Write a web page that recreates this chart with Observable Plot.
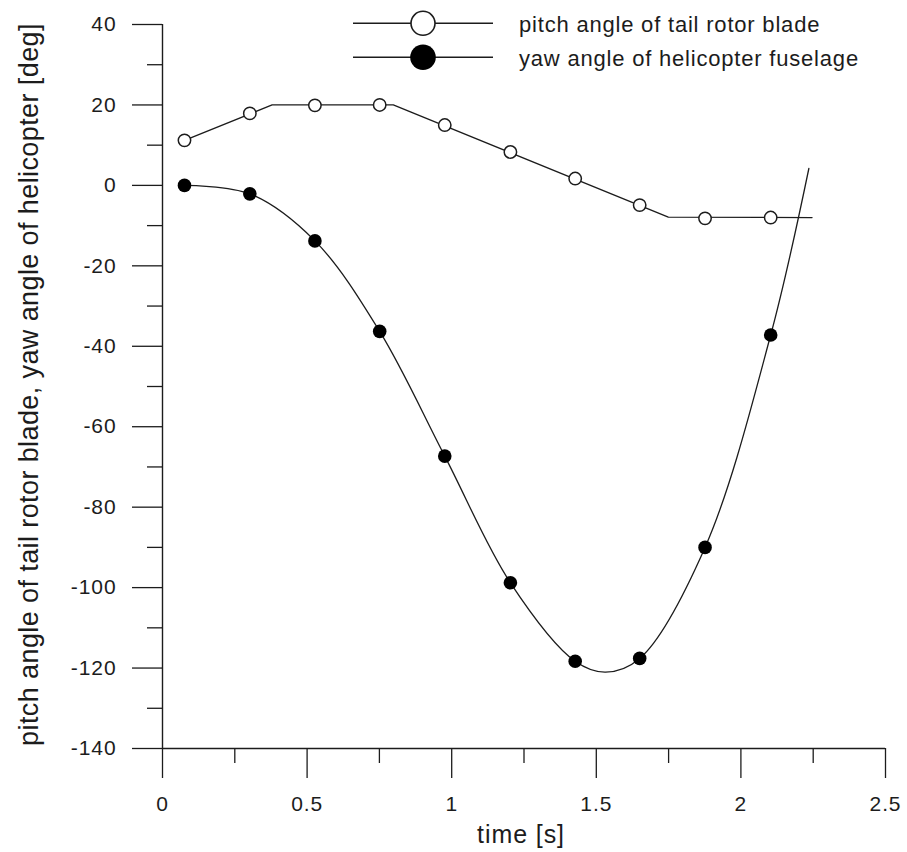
<!DOCTYPE html>
<html>
<head>
<meta charset="utf-8">
<script src="https://cdn.jsdelivr.net/npm/d3@7"></script>
<script src="https://cdn.jsdelivr.net/npm/@observablehq/plot@0.6"></script>
<style>
  html, body { margin: 0; padding: 0; background: #ffffff; }
  #chart { width: 907px; height: 852px; }
  #chart svg text { letter-spacing: 0.9px; }
</style>
</head>
<body>
<div id="chart"></div>
<script>
// ---- data ----
const markerTimes    = [0.076, 0.302, 0.527, 0.751, 0.976, 1.203, 1.427, 1.650, 1.876, 2.103];
const pitchAtMarkers = [11.2, 17.9, 19.9, 20.0, 15.0, 8.3, 1.7, -4.9, -8.2, -8.0];
const yawAtMarkers   = [0.0, -2.1, -13.8, -36.3, -67.3, -98.8, -118.3, -117.6, -90.0, -37.2];

// pitch angle: piecewise-linear trace (break points)
const pitchLineTimes  = [0.076, 0.379, 0.798, 1.749, 2.246];
const pitchLineValues = [11.2, 20.0, 20.0, -7.9, -8.0];

// yaw angle: smooth trace through these points
const yawCurveTimes  = [0.076, 0.302, 0.527, 0.751, 0.976, 1.203, 1.427, 1.532, 1.650, 1.876, 2.103, 2.235];
const yawCurveValues = [0.0, -2.1, -13.8, -36.3, -67.3, -98.8, -118.3, -121.0, -117.6, -90.0, -37.2, 4.2];

const yTicksMajor = [-140, -120, -100, -80, -60, -40, -20, 0, 20, 40];
const yTicksMinor = [-130, -110, -90, -70, -50, -30, -10, 10, 30];
const xTicksMajor = [0, 0.5, 1, 1.5, 2, 2.5];
const xTicksMinor = [0.25, 0.75, 1.25, 1.75, 2.25];

const seriesNames = ["pitch angle of tail rotor blade", "yaw angle of helicopter fuselage"];
const xLabel = "time [s]";
const yLabel = "pitch angle of tail rotor blade, yaw angle of helicopter [deg]";

// ---- build tables ----
const pitchLine = pitchLineTimes.map((t, i) => ({t, v: pitchLineValues[i]}));
const yawCurve = yawCurveTimes.map((t, i) => ({t, v: yawCurveValues[i]}));
const pitchMarks = markerTimes.map((t, i) => ({t, v: pitchAtMarkers[i]}));
const yawMarks = markerTimes.map((t, i) => ({t, v: yawAtMarkers[i]}));

const ink = "#1c1c1c";
const font = "'Liberation Sans', Arial, Helvetica, sans-serif";

const plot = Plot.plot({
  width: 907,
  height: 852,
  marginLeft: 162,
  marginRight: 22,
  marginTop: 24,
  marginBottom: 104,
  x: {domain: [0, 2.5]},
  y: {domain: [-140, 40]},
  style: {fontFamily: font, background: "#ffffff", color: ink, overflow: "visible"},
  marks: [
    Plot.axisY(yTicksMajor, {tickSize: 30, tickPadding: 16, tickFormat: d => String(d), fontSize: 21, stroke: ink, strokeWidth: 1.3, fill: ink, label: null}),
    Plot.axisY(yTicksMinor, {tickSize: 15, text: null, stroke: ink, strokeWidth: 1.3, label: null}),
    Plot.axisX(xTicksMajor, {tickSize: 30, tickPadding: 18, tickFormat: d => String(d), fontSize: 21, stroke: ink, strokeWidth: 1.3, fill: ink, label: null}),
    Plot.axisX(xTicksMinor, {tickSize: 15, text: null, stroke: ink, strokeWidth: 1.3, label: null}),
    Plot.ruleX([0], {stroke: ink, strokeWidth: 1.4}),
    Plot.ruleY([-140], {stroke: ink, strokeWidth: 1.4}),
    Plot.line(pitchLine, {x: "t", y: "v", stroke: ink, strokeWidth: 1.3}),
    Plot.line(yawCurve, {x: "t", y: "v", curve: "catmull-rom", stroke: ink, strokeWidth: 1.3}),
    Plot.dot(pitchMarks, {x: "t", y: "v", r: 6.2, stroke: ink, strokeWidth: 1.5, fill: "#ffffff"}),
    Plot.dot(yawMarks, {x: "t", y: "v", r: 6.8, fill: "#000000", stroke: "none"}),
    Plot.text([yLabel], {text: d => d, frameAnchor: "left", rotate: -90, dx: -125, dy: -2, fontSize: 27, textAnchor: "middle", lineAnchor: "bottom", fill: ink}),
    Plot.text([xLabel], {text: d => d, frameAnchor: "bottom", dx: -3, dy: 94, fontSize: 25, textAnchor: "middle", lineAnchor: "bottom", fill: ink})
  ]
});

// legend (drawn on top of the plot's svg)
const svg = d3.select(plot);
svg.selectAll("text").filter(function() { return this.textContent === yLabel; }).style("letter-spacing", "0.4px");
const lg = svg.append("g").attr("font-family", font).attr("text-anchor", "start");
seriesNames.forEach((name, i) => {
  const y = 23.3 + i * 34;
  lg.append("line").attr("x1", 353).attr("x2", 493).attr("y1", y).attr("y2", y)
    .attr("stroke", ink).attr("stroke-width", 1.4);
  lg.append("circle").attr("cx", 423).attr("cy", y).attr("r", i === 0 ? 12 : 12.8)
    .attr("fill", i === 0 ? "#ffffff" : "#000000")
    .attr("stroke", i === 0 ? ink : "none").attr("stroke-width", 1.6);
  lg.append("text").attr("x", 519).attr("y", y + 8.6).attr("font-size", 22)
    .attr("text-anchor", "start")
    .attr("fill", ink).style("letter-spacing", "0.8px").text(name);
});

document.getElementById("chart").appendChild(plot);
</script>
</body>
</html>
